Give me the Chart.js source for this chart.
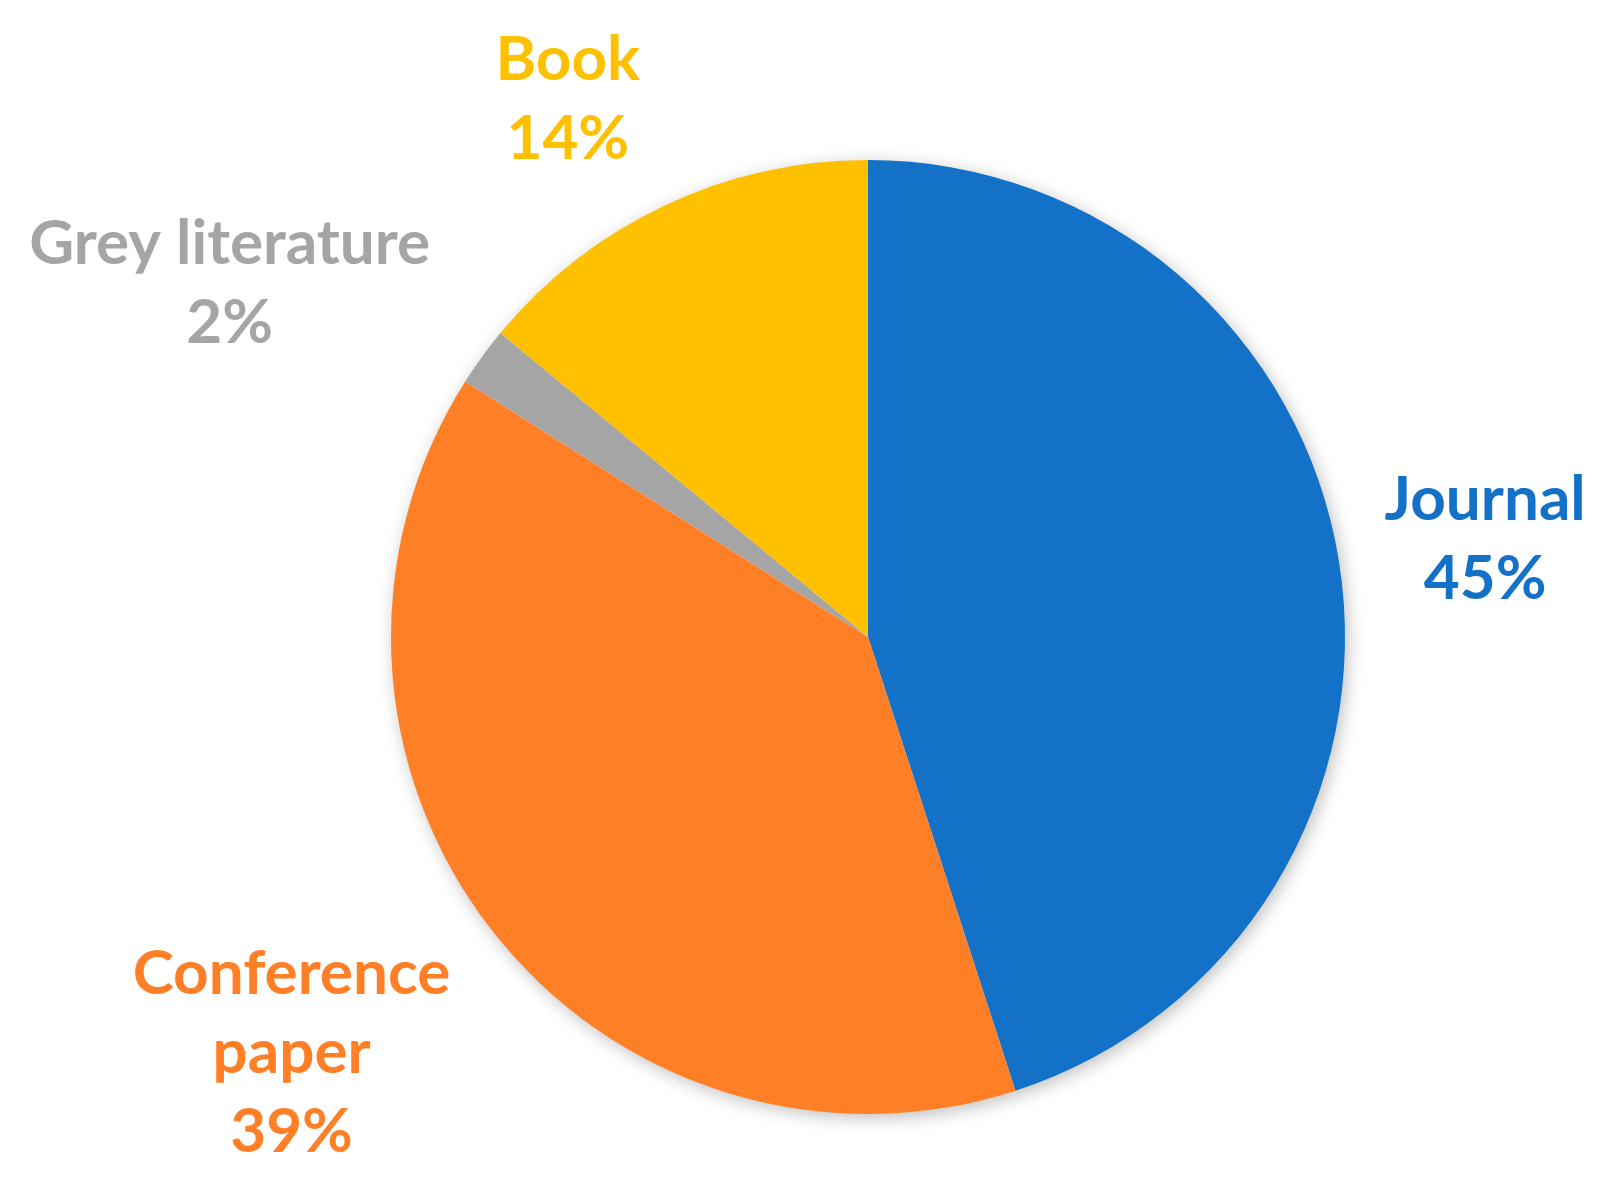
<!DOCTYPE html>
<html>
<head>
<meta charset="utf-8">
<script src="https://cdn.jsdelivr.net/npm/chart.js@4"></script>
<style>
  html, body { margin: 0; padding: 0; background: #fff; }
  #wrap { width: 1612px; height: 1185px; }
</style>
</head>
<body>
<div id="wrap"><canvas id="pie"></canvas></div>
<script>
// 数据
const categories = ['Journal', 'Conference paper', 'Grey literature', 'Book'];
const shares = [45, 39, 2, 14];
const labelLines = [['Journal', '45%'], ['Conference', 'paper', '39%'], ['Grey literature', '2%'], ['Book', '14%']];

const sliceColors = ['#1471c8', '#ff7f27', '#a5a5a5', '#ffc000'];
// label placement: distance (in radii) and angle tweak (deg) from slice middle
const labelDist = [1.31, 1.49, 1.53, 1.29];
const labelTweak = [0, 2, -7, -4];

// soft shadow under the whole pie
const pieShadow = {
  id: 'pieShadow',
  beforeDatasetsDraw(chart) {
    const arc = chart.getDatasetMeta(0).data[0];
    if (!arc) return;
    const ctx = chart.ctx;
    ctx.save();
    ctx.shadowColor = 'rgba(0,0,0,0.28)';
    ctx.shadowBlur = 18;
    ctx.shadowOffsetX = 3;
    ctx.shadowOffsetY = 4;
    ctx.fillStyle = '#fff';
    ctx.beginPath();
    ctx.arc(arc.x, arc.y, arc.outerRadius - 1, 0, Math.PI * 2);
    ctx.fill();
    ctx.restore();
  }
};

// outside labels
const outsideLabels = {
  id: 'outsideLabels',
  afterDatasetsDraw(chart) {
    const ctx = chart.ctx;
    const meta = chart.getDatasetMeta(0);
    ctx.save();
    ctx.font = 'bold 62px Lato, "Open Sans", sans-serif';
    ctx.textAlign = 'center';
    ctx.textBaseline = 'middle';
    meta.data.forEach((arc, i) => {
      const mid = (arc.startAngle + arc.endAngle) / 2 + labelTweak[i] * Math.PI / 180;
      const d = arc.outerRadius * labelDist[i];
      const cx = arc.x + Math.cos(mid) * d;
      const cy = arc.y + Math.sin(mid) * d;
      const lines = labelLines[i];
      const lh = 79;
      ctx.fillStyle = sliceColors[i];
      lines.forEach((t, k) => {
        ctx.fillText(t, cx, cy + (k - (lines.length - 1) / 2) * lh);
      });
    });
    ctx.restore();
  }
};

new Chart(document.getElementById('pie'), {
  type: 'pie',
  data: {
    labels: categories,
    datasets: [{
      data: shares,
      backgroundColor: sliceColors,
      borderWidth: 0,
    }],
  },
  options: {
    responsive: true,
    maintainAspectRatio: false,
    animation: false,
    layout: { padding: { left: 391, right: 267, top: 160, bottom: 71 } },
    plugins: {
      legend: { display: false },
      tooltip: { enabled: false },
    },
  },
  plugins: [pieShadow, outsideLabels],
});
</script>
</body>
</html>
